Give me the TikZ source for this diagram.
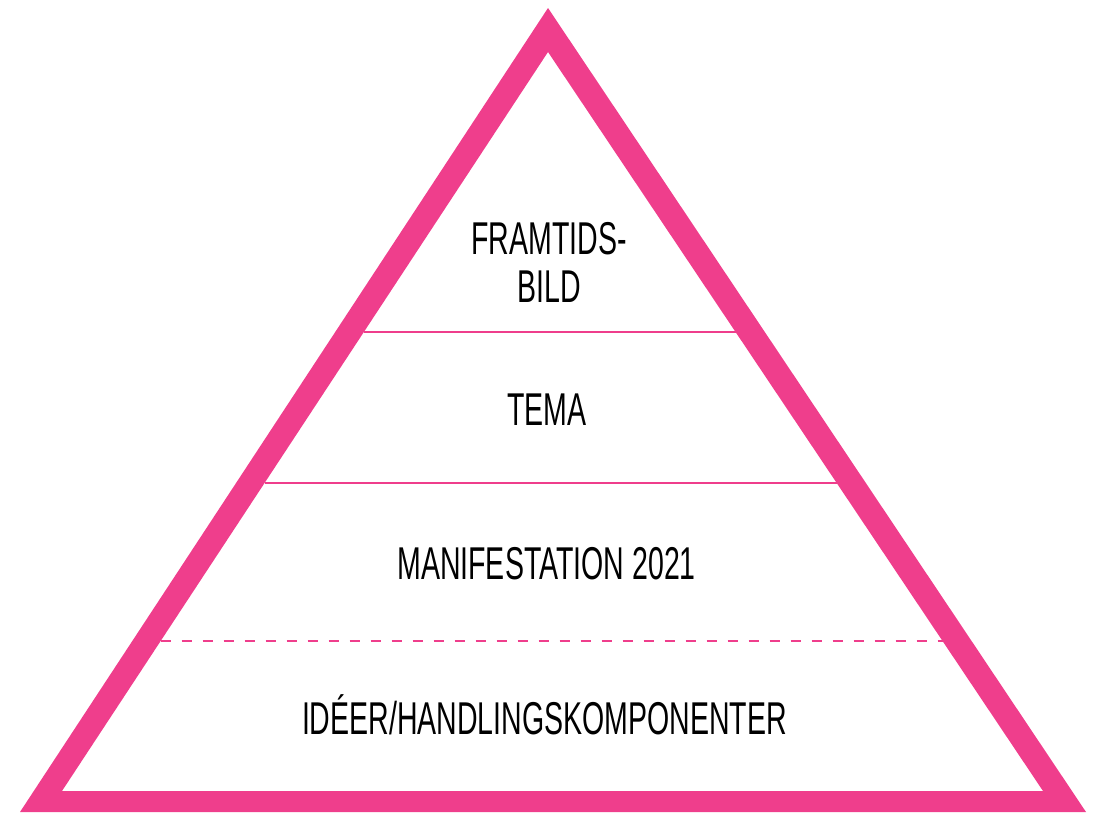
\documentclass[tikz,border=0pt]{standalone}
\usepackage{fontspec}
\setmainfont{Liberation Sans}[FakeStretch=0.62]
\usetikzlibrary{calc}
\definecolor{pink}{RGB}{239,62,140}
\tikzset{
  label text/.style={font=\fontsize{46}{48}\selectfont, text=black, inner sep=0pt, anchor=base, align=center},
  divider/.style={draw=pink, line width=2pt},
  dashdivider/.style={divider, dash pattern=on 10pt off 11pt}
}
\begin{document}
\begin{tikzpicture}[x=1pt,y=-1pt]
\useasboundingbox (0,0) rectangle (1094,812);
% triangle frame
\coordinate (oA) at (548,8);
\coordinate (oL) at (20,812);
\coordinate (oR) at (1086,812);
\coordinate (iA) at (548,52);
\coordinate (iL) at (62,791);
\coordinate (iR) at (1043,791);
\fill[pink, even odd rule] (oA) -- (oL) -- (oR) -- cycle (iA) -- (iL) -- (iR) -- cycle;
% dividers
\coordinate (l1) at ($(iA)!0.3789!(iL)$);
\coordinate (r1) at ($(iA)!0.3789!(iR)$);
\coordinate (l2) at ($(iA)!0.5832!(iL)$);
\coordinate (r2) at ($(iA)!0.5832!(iR)$);
\coordinate (l3) at ($(iA)!0.797!(iL)$);
\coordinate (r3) at ($(iA)!0.797!(iR)$);
\draw[divider] (l1) -- (r1);
\draw[divider] (l2) -- (r2);
\draw[dashdivider] (l3) -- (r3);
% labels
\node[label text] (framtid) at (549,302) {FRAMTIDS-\\BILD};
\node[label text] (tema) at (547,425) {TEMA};
\node[label text] (manif) at (546.5,579) {MANIFESTATION 2021};
\node[label text] (ideer) at (544.5,734) {IDÉER/HANDLINGSKOMPONENTER};
\end{tikzpicture}
\end{document}
